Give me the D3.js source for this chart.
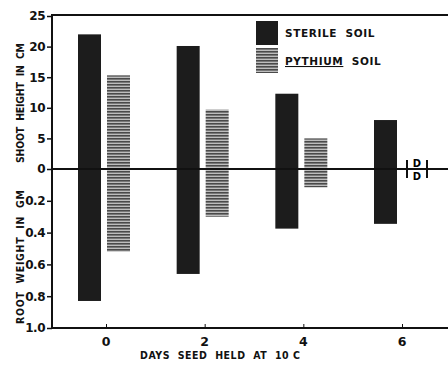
<!DOCTYPE html>
<html><head><meta charset="utf-8">
<script src="https://cdn.jsdelivr.net/npm/d3@7"></script>
<style>body{margin:0;background:#fff}svg{display:block}</style>
</head><body>
<script>
const days = [0, 2, 4, 6];
const sterileShoot = [22, 20.1, 12.3, 8];
const pythiumShoot = [15.3, 9.7, 5, null];
const sterileRoot = [0.83, 0.66, 0.375, 0.345];
const pythiumRoot = [0.52, 0.30, 0.115, null];
const shootTicks = [0, 5, 10, 15, 20, 25];
const rootTicks = [0.2, 0.4, 0.6, 0.8, 1.0];
const xTicks = [0, 2, 4, 6];

const W = 448, H = 367;
const svg = d3.select("body").append("svg").attr("width", W).attr("height", H);
const defs = svg.append("defs");
const pat = defs.append("pattern").attr("id","hatch").attr("patternUnits","userSpaceOnUse")
  .attr("width",4).attr("height",3);
pat.append("rect").attr("width",4).attr("height",3).attr("fill","#bdbdbd");
pat.append("rect").attr("width",4).attr("height",1.6).attr("fill","#4a4a4a");

const axX = 52, zeroY = 169;
const x = d3.scaleLinear().domain([0, 6]).range([106, 402]);
const yS = d3.scaleLinear().domain([0, 25]).range([zeroY, 16]);
const yR = d3.scaleLinear().domain([0, 1.0]).range([zeroY, 328]);

const tickFont = "'DejaVu Sans', sans-serif";
const titleFont = "'DejaVu Sans Condensed', 'DejaVu Sans', sans-serif";

// Bars
const g = svg.append("g");
days.forEach((d, i) => {
  const t = x(d);
  g.append("rect").attr("x", t - 28).attr("width", 23)
    .attr("y", yS(sterileShoot[i])).attr("height", yR(sterileRoot[i]) - yS(sterileShoot[i]))
    .attr("fill", "#1c1c1c");
  if (pythiumShoot[i] != null) {
    g.append("rect").attr("x", t + 1).attr("width", 23)
      .attr("y", yS(pythiumShoot[i])).attr("height", yR(pythiumRoot[i]) - yS(pythiumShoot[i]))
      .attr("fill", "url(#hatch)");
  }
});

// Frame lines
svg.append("line").attr("x1", axX).attr("x2", W).attr("y1", 15).attr("y2", 15)
  .attr("stroke", "#111").attr("stroke-width", 2);
svg.append("line").attr("x1", axX).attr("x2", W).attr("y1", zeroY).attr("y2", zeroY)
  .attr("stroke", "#111").attr("stroke-width", 2);

// Left axes
const leftS = d3.axisLeft(yS).tickValues(shootTicks).tickSize(5).tickPadding(2).tickFormat(d3.format("d"));
const leftR = d3.axisLeft(yR).tickValues(rootTicks).tickSize(5).tickPadding(2)
  .tickFormat(d3.format(".1f"));
[leftS, leftR].forEach(ax => {
  const a = svg.append("g").attr("transform", `translate(${axX},0)`).call(ax);
  a.select(".domain").remove();
  a.selectAll("line").attr("stroke", "#111").attr("stroke-width", 1.5);
  a.selectAll("text").attr("font-family", tickFont).attr("font-weight", "bold")
    .attr("font-size", 12).attr("letter-spacing", -0.5).attr("fill", "#111");
});
svg.append("line").attr("x1", axX).attr("x2", axX).attr("y1", 14).attr("y2", 329)
  .attr("stroke", "#111").attr("stroke-width", 2);

// Bottom axis
const bx = svg.append("g").attr("transform", `translate(0,328)`)
  .call(d3.axisTop(x).tickValues(xTicks).tickSize(4).tickFormat(""));
bx.select(".domain").remove();
bx.selectAll("line").attr("stroke", "#111").attr("stroke-width", 1);
svg.append("line").attr("x1", axX).attr("x2", W).attr("y1", 328).attr("y2", 328)
  .attr("stroke", "#111").attr("stroke-width", 2);
svg.append("g").selectAll("text").data(xTicks).join("text")
  .attr("x", d => x(d)).attr("y", 346).attr("text-anchor", "middle")
  .attr("font-family", tickFont).attr("font-weight", "bold").attr("font-size", 12.5)
  .attr("fill", "#111").text(d => d);

// Dead markers at day 6 pythium
const dm = x(6) + 15;
[dm - 10, dm + 10].forEach(xx => {
  svg.append("line").attr("x1", xx).attr("x2", xx).attr("y1", zeroY - 9).attr("y2", zeroY + 9)
    .attr("stroke", "#111").attr("stroke-width", 2);
});
svg.append("text").attr("x", dm).attr("y", zeroY - 2).attr("text-anchor", "middle")
  .attr("font-family", tickFont).attr("font-weight", "bold").attr("font-size", 10).text("D");
svg.append("text").attr("x", dm).attr("y", zeroY + 11).attr("text-anchor", "middle")
  .attr("font-family", tickFont).attr("font-weight", "bold").attr("font-size", 10).text("D");

// Axis titles
function vtitle(txt, cy, len) {
  svg.append("text").attr("transform", `translate(24,${cy}) rotate(-90)`)
    .attr("x", -len / 2).attr("font-family", titleFont).attr("font-size", 10.5)
    .attr("font-weight", "bold").attr("fill", "#111")
    .attr("textLength", len).attr("lengthAdjust", "spacing")
    .style("white-space", "pre").text(txt);
}
vtitle("SHOOT  HEIGHT  IN  CM", 103, 120);
vtitle("ROOT  WEIGHT  IN  GM", 257, 134);
svg.append("text").attr("x", 140).attr("y", 359)
  .attr("font-family", titleFont).attr("font-size", 10.5).attr("font-weight", "bold")
  .attr("textLength", 160).attr("lengthAdjust", "spacing")
  .attr("fill", "#111").style("white-space", "pre")
  .text("DAYS  SEED  HELD  AT  10 C");

// Legend
const lg = svg.append("g");
lg.append("rect").attr("x", 256).attr("y", 21).attr("width", 22).attr("height", 24).attr("fill", "#1c1c1c");
lg.append("rect").attr("x", 256).attr("y", 48).attr("width", 22).attr("height", 25).attr("fill", "url(#hatch)");
lg.append("text").attr("x", 285).attr("y", 37).attr("font-family", tickFont).attr("font-weight", "bold")
  .attr("font-size", 10.5).attr("letter-spacing", 0.6).attr("fill", "#111").style("white-space", "pre").text("STERILE  SOIL");
const pt = lg.append("text").attr("x", 285).attr("y", 65).attr("font-family", tickFont).attr("font-weight", "bold")
  .attr("font-size", 10.5).attr("letter-spacing", 0.6).attr("fill", "#111").style("white-space", "pre");
pt.append("tspan").attr("text-decoration", "underline").text("PYTHIUM");
pt.append("tspan").text("  SOIL");
</script>
</body></html>
